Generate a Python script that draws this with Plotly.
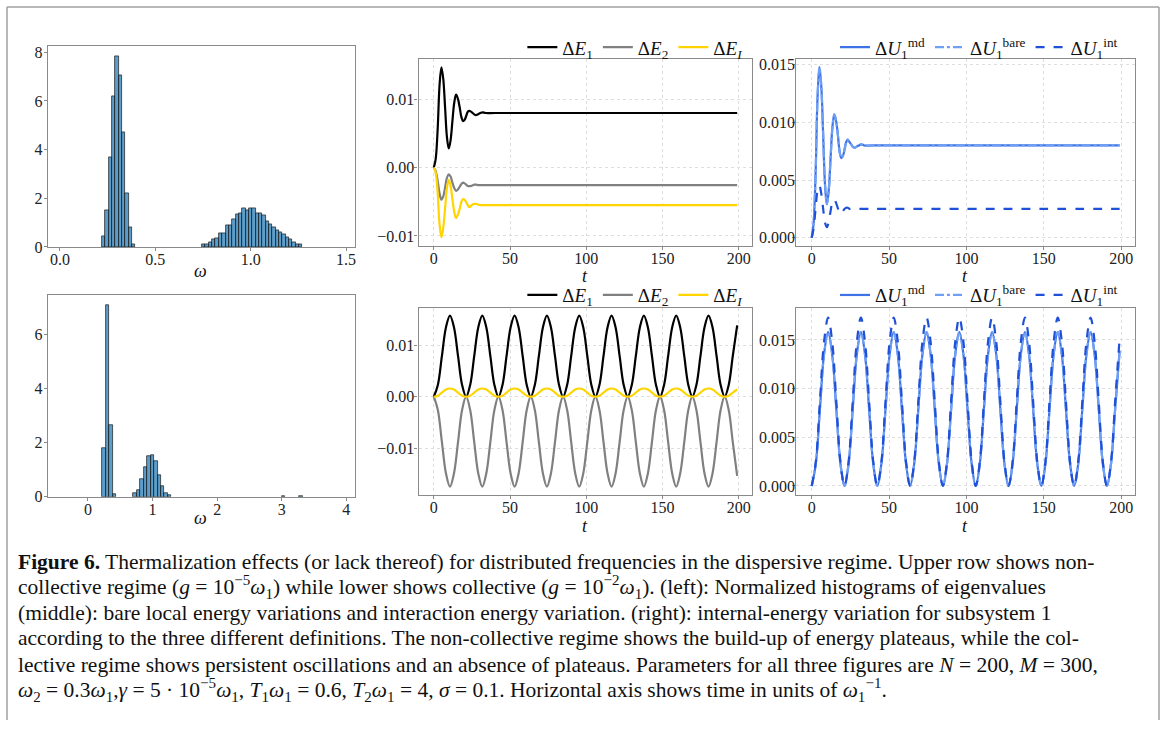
import plotly.graph_objects as go

W, H = 1165, 729
SERIF = "Liberation Serif"

# ---------------- histogram data (normalized densities) ----------------
hist_top_start = 0.22
hist_top_width = 0.0175
hist_top_heights = [0.45, 1.5, 3.7, 6.2, 7.85, 7.05, 4.7, 2.2, 0.8, 0.1,
                    0, 0, 0, 0, 0, 0, 0, 0, 0, 0,
                    0, 0, 0, 0, 0, 0, 0, 0, 0, 0,
                    0.1, 0.1, 0.2, 0.3, 0.35, 0.55, 0.55, 0.9, 0.9, 1.15,
                    1.35, 1.4, 1.6, 1.5, 1.6, 1.6, 1.4, 1.4, 1.3, 1.05,
                    0.95, 0.8, 0.7, 0.6, 0.5, 0.4, 0.3, 0.2, 0.1, 0.1]

hist_bot_start = 0.22
hist_bot_width = 0.0535
hist_bot_heights = [1.8, 7.1, 2.65, 0.08, 0, 0, 0, 0, 0,
                    0.15, 0.25, 0.65, 1.1, 1.5, 1.55, 1.3, 0.8, 0.4, 0.15, 0.05,
                    0, 0, 0, 0, 0, 0, 0, 0, 0, 0,
                    0, 0, 0, 0, 0, 0, 0, 0, 0, 0,
                    0, 0, 0, 0, 0, 0, 0, 0, 0, 0,
                    0, 0, 0.04, 0, 0, 0, 0, 0.04]

# ---------------- time series: upper row (non-collective) ----------------
t_top = [0, 1.2, 2.5, 3.8, 5.0, 6.2, 7.4, 8.6, 9.8, 11.0, 12.2, 13.4, 14.6, 15.8,
         17.0, 18.1, 19.2, 20.2, 21.3, 22.3, 23.3, 24.4, 25.5, 26.5, 27.6, 29.0,
         30.5, 32.0, 34.0, 40.0, 100.0, 150.0, 199.0]
dE1_top = [0, 0.0012, 0.0055, 0.0122, 0.0147, 0.0130, 0.0088, 0.0045, 0.0028, 0.0040,
           0.0068, 0.0095, 0.0107, 0.0101, 0.0088, 0.0074, 0.0068, 0.0070, 0.0076, 0.0082,
           0.0083, 0.0082, 0.0080, 0.0078, 0.0077, 0.0078, 0.0080, 0.0081, 0.0080, 0.0080,
           0.0080, 0.0080, 0.0080]
dE2_top = [0, -0.0005, -0.0019, -0.0038, -0.0047, -0.0042, -0.0029, -0.0015, -0.0010, -0.0013,
           -0.0022, -0.0030, -0.0034, -0.0032, -0.0028, -0.0024, -0.0022, -0.0023, -0.0025, -0.0027,
           -0.0027, -0.0027, -0.0026, -0.0025, -0.0025, -0.00255, -0.00256, -0.00256, -0.00256,
           -0.00256, -0.00256, -0.00256, -0.00256]
dEI_top = [0, -0.0007, -0.0036, -0.0084, -0.0102, -0.0088, -0.0059, -0.0030, -0.0018, -0.0027,
           -0.0046, -0.0065, -0.0074, -0.0069, -0.0060, -0.0050, -0.0046, -0.0047, -0.0051, -0.0055,
           -0.0058, -0.0056, -0.0054, -0.0053, -0.0053, -0.0054, -0.0055, -0.0055, -0.0055,
           -0.0055, -0.0055, -0.0055, -0.0055]
dU_md_top = [0, 0.0012, 0.0055, 0.0123, 0.0148, 0.0131, 0.0089, 0.0046, 0.0029, 0.0041,
             0.0069, 0.0096, 0.0107, 0.0101, 0.0088, 0.0074, 0.0069, 0.0071, 0.0077, 0.0083,
             0.0085, 0.0083, 0.0081, 0.0079, 0.0078, 0.0079, 0.0080, 0.0081, 0.0080, 0.0080,
             0.0080, 0.0080, 0.0080]
dU_bare_top = [0, 0.0012, 0.0055, 0.0123, 0.0148, 0.0131, 0.0089, 0.0046, 0.0029, 0.0041,
               0.0069, 0.0096, 0.0107, 0.0101, 0.0088, 0.0074, 0.0069, 0.0071, 0.0077, 0.0083,
               0.0085, 0.0083, 0.0081, 0.0079, 0.0078, 0.0079, 0.0080, 0.0081, 0.0080, 0.0080,
               0.0080, 0.0080, 0.0080]
dU_int_top = [0, 0.0008, 0.0025, 0.0041, 0.0045, 0.0038, 0.0025, 0.0013, 0.0009, 0.0014,
              0.0023, 0.0031, 0.0033, 0.0030, 0.0025, 0.0021, 0.0021, 0.0023, 0.0025, 0.0026,
              0.0026, 0.0025, 0.0025, 0.0025, 0.0025, 0.0025, 0.0025, 0.0025, 0.0025, 0.0025,
              0.0025, 0.0025, 0.0025]

# ---------------- time series: lower row (collective) ----------------
t_bot = [0, 2.65, 5.3, 7.95, 10.6, 13.25, 15.9, 18.55,
         21.2, 23.85, 26.5, 29.15, 31.8, 34.45, 37.1, 39.75,
         42.4, 45.05, 47.7, 50.35, 53.0, 55.65, 58.3, 60.95,
         63.6, 66.25, 68.9, 71.55, 74.2, 76.85, 79.5, 82.15,
         84.8, 87.45, 90.1, 92.75, 95.4, 98.05, 100.7, 103.35,
         106.0, 108.65, 111.3, 113.95, 116.6, 119.25, 121.9, 124.55,
         127.2, 129.85, 132.5, 135.15, 137.8, 140.45, 143.1, 145.75,
         148.4, 151.05, 153.7, 156.35, 159.0, 161.65, 164.3, 166.95,
         169.6, 172.25, 174.9, 177.55, 180.2, 182.85, 185.5, 188.15,
         190.8, 193.45, 196.1, 199.0]
dE1_bot = [0.0, 0.0023, 0.0079, 0.0135, 0.0158, 0.0135, 0.0079, 0.0023,
           0.0, 0.0023, 0.0079, 0.0135, 0.0158, 0.0135, 0.0079, 0.0023,
           0.0, 0.0023, 0.0079, 0.0135, 0.0158, 0.0135, 0.0079, 0.0023,
           0.0, 0.0023, 0.0079, 0.0135, 0.0158, 0.0135, 0.0079, 0.0023,
           0.0, 0.0023, 0.0079, 0.0135, 0.0158, 0.0135, 0.0079, 0.0023,
           0.0, 0.0023, 0.0079, 0.0135, 0.0158, 0.0135, 0.0079, 0.0023,
           0.0, 0.0023, 0.0079, 0.0135, 0.0158, 0.0135, 0.0079, 0.0023,
           0.0, 0.0023, 0.0079, 0.0135, 0.0158, 0.0135, 0.0079, 0.0023,
           0.0, 0.0023, 0.0079, 0.0135, 0.0158, 0.0135, 0.0079, 0.0023,
           0.0, 0.0023, 0.0079, 0.0139]
dE2_bot = [0.0, -0.0026, -0.0088, -0.0149, -0.0175, -0.0149, -0.0088, -0.0026,
           0.0, -0.0026, -0.0088, -0.0149, -0.0175, -0.0149, -0.0088, -0.0026,
           0.0, -0.0026, -0.0088, -0.0149, -0.0175, -0.0149, -0.0088, -0.0026,
           0.0, -0.0026, -0.0088, -0.0149, -0.0175, -0.0149, -0.0088, -0.0026,
           0.0, -0.0026, -0.0088, -0.0149, -0.0175, -0.0149, -0.0088, -0.0026,
           0.0, -0.0026, -0.0088, -0.0149, -0.0175, -0.0149, -0.0088, -0.0026,
           0.0, -0.0026, -0.0088, -0.0149, -0.0175, -0.0149, -0.0088, -0.0026,
           0.0, -0.0026, -0.0088, -0.0149, -0.0175, -0.0149, -0.0088, -0.0026,
           0.0, -0.0026, -0.0088, -0.0149, -0.0175, -0.0149, -0.0088, -0.0026,
           0.0, -0.0026, -0.0088, -0.0154]
dEI_bot = [0.0, 0.0002, 0.0008, 0.0014, 0.0016, 0.0014, 0.0008, 0.0002,
           0.0, 0.0002, 0.0008, 0.0014, 0.0016, 0.0014, 0.0008, 0.0002,
           0.0, 0.0002, 0.0008, 0.0014, 0.0016, 0.0014, 0.0008, 0.0002,
           0.0, 0.0002, 0.0008, 0.0014, 0.0016, 0.0014, 0.0008, 0.0002,
           0.0, 0.0002, 0.0008, 0.0014, 0.0016, 0.0014, 0.0008, 0.0002,
           0.0, 0.0002, 0.0008, 0.0014, 0.0016, 0.0014, 0.0008, 0.0002,
           0.0, 0.0002, 0.0008, 0.0014, 0.0016, 0.0014, 0.0008, 0.0002,
           0.0, 0.0002, 0.0008, 0.0014, 0.0016, 0.0014, 0.0008, 0.0002,
           0.0, 0.0002, 0.0008, 0.0014, 0.0016, 0.0014, 0.0008, 0.0002,
           0.0, 0.0002, 0.0008, 0.0014]
dU_md_bot = [0.0, 0.0023, 0.0079, 0.0135, 0.0158, 0.0135, 0.0079, 0.0023,
             0.0, 0.0023, 0.0079, 0.0135, 0.0158, 0.0135, 0.0079, 0.0023,
             0.0, 0.0023, 0.0079, 0.0135, 0.0158, 0.0135, 0.0079, 0.0023,
             0.0, 0.0023, 0.0079, 0.0135, 0.0158, 0.0135, 0.0079, 0.0023,
             0.0, 0.0023, 0.0079, 0.0135, 0.0158, 0.0135, 0.0079, 0.0023,
             0.0, 0.0023, 0.0079, 0.0135, 0.0158, 0.0135, 0.0079, 0.0023,
             0.0, 0.0023, 0.0079, 0.0135, 0.0158, 0.0135, 0.0079, 0.0023,
             0.0, 0.0023, 0.0079, 0.0135, 0.0158, 0.0135, 0.0079, 0.0023,
             0.0, 0.0023, 0.0079, 0.0135, 0.0158, 0.0135, 0.0079, 0.0023,
             0.0, 0.0023, 0.0079, 0.0139]
dU_bare_bot = [0.0, 0.0023, 0.0079, 0.0135, 0.0158, 0.0135, 0.0079, 0.0023,
               0.0, 0.0023, 0.0079, 0.0135, 0.0158, 0.0135, 0.0079, 0.0023,
               0.0, 0.0023, 0.0079, 0.0135, 0.0158, 0.0135, 0.0079, 0.0023,
               0.0, 0.0023, 0.0079, 0.0135, 0.0158, 0.0135, 0.0079, 0.0023,
               0.0, 0.0023, 0.0079, 0.0135, 0.0158, 0.0135, 0.0079, 0.0023,
               0.0, 0.0023, 0.0079, 0.0135, 0.0158, 0.0135, 0.0079, 0.0023,
               0.0, 0.0023, 0.0079, 0.0135, 0.0158, 0.0135, 0.0079, 0.0023,
               0.0, 0.0023, 0.0079, 0.0135, 0.0158, 0.0135, 0.0079, 0.0023,
               0.0, 0.0023, 0.0079, 0.0135, 0.0158, 0.0135, 0.0079, 0.0023,
               0.0, 0.0023, 0.0079, 0.0139]
dU_int_bot = [0.0, 0.0025, 0.0087, 0.0148, 0.0173, 0.0148, 0.0087, 0.0025,
              0.0, 0.0025, 0.0087, 0.0148, 0.0173, 0.0148, 0.0087, 0.0025,
              0.0, 0.0025, 0.0087, 0.0148, 0.0173, 0.0148, 0.0087, 0.0025,
              0.0, 0.0025, 0.0087, 0.0148, 0.0173, 0.0148, 0.0087, 0.0025,
              0.0, 0.0025, 0.0087, 0.0148, 0.0173, 0.0148, 0.0087, 0.0025,
              0.0, 0.0025, 0.0087, 0.0148, 0.0173, 0.0148, 0.0087, 0.0025,
              0.0, 0.0025, 0.0087, 0.0148, 0.0173, 0.0148, 0.0087, 0.0025,
              0.0, 0.0025, 0.0087, 0.0148, 0.0173, 0.0148, 0.0087, 0.0025,
              0.0, 0.0025, 0.0087, 0.0148, 0.0173, 0.0148, 0.0087, 0.0025,
              0.0, 0.0025, 0.0087, 0.0152]

# ---------------- labels ----------------
lab_E = ["Δ<i>E</i><sub>1</sub>", "Δ<i>E</i><sub>2</sub>", "Δ<i>E</i><sub><i>I</i></sub>"]
lab_U = ["Δ<i>U</i><sub>1</sub><sup>md</sup>", "Δ<i>U</i><sub>1</sub><sup>bare</sup>",
         "Δ<i>U</i><sub>1</sub><sup>int</sup>"]
col_E = ["#000000", "#808080", "#FFD400"]
col_U = ["#3F72E6", "#6FA0F5", "#1F50D8"]
dash_U = ["solid", "dashdot", "dash"]

caption_lines = [
    "<b>Figure 6.</b> Thermalization effects (or lack thereof) for distributed frequencies in the dispersive regime. Upper row shows non-",
    "collective regime (<i>g</i> = 10<sup>−5</sup><i>ω</i><sub>1</sub>) while lower shows collective (<i>g</i> = 10<sup>−2</sup><i>ω</i><sub>1</sub>). (left): Normalized histograms of eigenvalues",
    "(middle): bare local energy variations and interaction energy variation. (right): internal-energy variation for subsystem 1",
    "according to the three different definitions. The non-collective regime shows the build-up of energy plateaus, while the col-",
    "lective regime shows persistent oscillations and an absence of plateaus. Parameters for all three figures are <i>N</i> = 200, <i>M</i> = 300,",
    "<i>ω</i><sub>2</sub> = 0.3<i>ω</i><sub>1</sub>,<i>γ</i> = 5 · 10<sup>−5</sup><i>ω</i><sub>1</sub>, <i>T</i><sub>1</sub><i>ω</i><sub>1</sub> = 0.6, <i>T</i><sub>2</sub><i>ω</i><sub>1</sub> = 4, <i>σ</i> = 0.1. Horizontal axis shows time in units of <i>ω</i><sub>1</sub><sup>−1</sup>.",
]


def px(x):
    return x / W


def py(y):
    return 1 - y / H


fig = go.Figure()


def add_hist(heights, start, width, xa, ya):
    xs, ys = [], []
    for i, h in enumerate(heights):
        if h > 0:
            xs.append(start + (i + 0.5) * width)
            ys.append(h)
    fig.add_trace(go.Bar(x=xs, y=ys, width=width, xaxis=xa, yaxis=ya,
                         marker=dict(color="rgba(31,119,180,0.72)",
                                     line=dict(color="#1a1a1a", width=0.7)),
                         showlegend=False, hoverinfo="skip"))


add_hist(hist_top_heights, hist_top_start, hist_top_width, "x", "y")
add_hist(hist_bot_heights, hist_bot_start, hist_bot_width, "x4", "y4")

for ys, lab, c in zip([dE1_top, dE2_top, dEI_top], lab_E, col_E):
    fig.add_trace(go.Scatter(x=t_top, y=ys, mode="lines", name=lab, xaxis="x2", yaxis="y2",
                             line=dict(color=c, width=2.2, shape="spline", smoothing=1.0),
                             legend="legend"))
for ys, lab, c, d in zip([dU_md_top, dU_bare_top, dU_int_top], lab_U, col_U, dash_U):
    fig.add_trace(go.Scatter(x=t_top, y=ys, mode="lines", name=lab, xaxis="x3", yaxis="y3",
                             line=dict(color=c, width=2.2, dash=d, shape="spline", smoothing=1.0),
                             legend="legend2"))
for ys, lab, c in zip([dE1_bot, dE2_bot, dEI_bot], lab_E, col_E):
    fig.add_trace(go.Scatter(x=t_bot, y=ys, mode="lines", name=lab, xaxis="x5", yaxis="y5",
                             line=dict(color=c, width=2.2, shape="spline", smoothing=1.0),
                             legend="legend3"))
for ys, lab, c, d in zip([dU_md_bot, dU_bare_bot, dU_int_bot], lab_U, col_U, dash_U):
    fig.add_trace(go.Scatter(x=t_bot, y=ys, mode="lines", name=lab, xaxis="x6", yaxis="y6",
                             line=dict(color=c, width=2.2, dash=d, shape="spline", smoothing=1.0),
                             legend="legend4"))


def ax(standoff, **kw):
    d = dict(showline=True, mirror=True, linecolor="#8a8a8a", linewidth=1.3,
             ticks="outside", ticklen=3, tickcolor="#8a8a8a", zeroline=False,
             ticklabelstandoff=standoff,
             tickfont=dict(family=SERIF, size=16, color="#222"))
    d.update(kw)
    return d


grid = dict(showgrid=True, gridcolor="#dedede", griddash="dot", gridwidth=1)
nogrid = dict(showgrid=False)

dom_hx = [px(48), px(355)]
dom_mx = [px(419), px(753)]
dom_rx = [px(797), px(1136)]
dom_top = [py(247), py(57)]
dom_bot = [py(500), py(310)]
TX = [0, 50, 100, 150, 200]

layout = dict(
    width=W, height=H, margin=dict(l=0, r=0, t=0, b=0),
    paper_bgcolor="white", plot_bgcolor="white", bargap=0,
    xaxis=ax(-5, domain=dom_hx, anchor="y", range=[-0.063, 1.545], tickvals=[0, 0.5, 1.0, 1.5],
             tickformat=".1f", **nogrid),
    yaxis=ax(-2, domain=[py(248), py(44)], anchor="x", range=[0, 8.25], tickvals=[0, 2, 4, 6, 8],
             **nogrid),
    xaxis2=ax(-5, domain=dom_mx, anchor="y2", range=[-9.95, 208.95], tickvals=TX, **grid),
    yaxis2=ax(-3, domain=dom_top, anchor="x2", range=[-0.01147, 0.0159], tickvals=[-0.01, 0, 0.01],
              tickformat=".2f", **grid),
    xaxis3=ax(-5, domain=dom_rx, anchor="y3", range=[-9.95, 208.95], tickvals=TX, **grid),
    yaxis3=ax(-6, domain=dom_top, anchor="x3", range=[-0.00072, 0.0155],
              tickvals=[0, 0.005, 0.01, 0.015], tickformat=".3f", **grid),
    xaxis4=ax(-5, domain=dom_hx, anchor="y4", range=[-0.62, 4.13], tickvals=[0, 1, 2, 3, 4],
              **nogrid),
    yaxis4=ax(-2, domain=[py(502), py(297)], anchor="x4", range=[0, 7.46], tickvals=[0, 2, 4, 6],
              **nogrid),
    xaxis5=ax(-5, domain=dom_mx, anchor="y5", range=[-9.95, 208.95], tickvals=TX, **grid),
    yaxis5=ax(-3, domain=dom_bot, anchor="x5", range=[-0.0191, 0.0173], tickvals=[-0.01, 0, 0.01],
              tickformat=".2f", **grid),
    xaxis6=ax(-5, domain=dom_rx, anchor="y6", range=[-9.95, 208.95], tickvals=TX, **grid),
    yaxis6=ax(-6, domain=dom_bot, anchor="x6", range=[-0.00091, 0.0183],
              tickvals=[0, 0.005, 0.01, 0.015], tickformat=".3f", **grid),
)

leg_common = dict(orientation="h", xanchor="right", yanchor="middle",
                  font=dict(family=SERIF, size=19, color="#111"),
                  bgcolor="rgba(0,0,0,0)", itemwidth=30, tracegroupgap=0)
layout["legend"] = dict(x=px(748), y=py(45), **leg_common)
layout["legend2"] = dict(x=px(1124), y=py(45), **leg_common)
layout["legend3"] = dict(x=px(748), y=py(297), **leg_common)
layout["legend4"] = dict(x=px(1124), y=py(297), **leg_common)

fig.update_layout(**layout)

annotations = []
for (x, y, s) in [(201, 272, "<i>ω</i>"), (201, 524, "<i>ω</i>"),
                  (586, 278, "<i>t</i>"), (966, 278, "<i>t</i>"),
                  (586, 532, "<i>t</i>"), (966, 532, "<i>t</i>")]:
    annotations.append(dict(x=px(x), y=py(y), xref="paper", yref="paper", text=s,
                            showarrow=False, xanchor="center", yanchor="middle",
                            font=dict(family=SERIF, size=18, color="#111")))

cap_y = [568, 594, 620, 646, 673, 699]
for line, y in zip(caption_lines, cap_y):
    annotations.append(dict(x=px(16), y=py(y), xref="paper", yref="paper", text=line,
                            showarrow=False, xanchor="left", yanchor="middle", align="left",
                            font=dict(family=SERIF, size=21.5, color="#111")))
fig.update_layout(annotations=annotations)

border = dict(type="line", xref="paper", yref="paper", line=dict(color="#a0a0a0", width=1.5))
fig.update_layout(shapes=[
    dict(border, x0=px(7), x1=px(1160), y0=py(4), y1=py(4)),
    dict(border, x0=px(7), x1=px(7), y0=py(4), y1=0),
    dict(border, x0=px(1160), x1=px(1160), y0=py(4), y1=0),
])

fig.write_html("out.html", config={"displayModeBar": False},
               post_script="document.body.style.margin='0';document.body.style.overflow='hidden';")
